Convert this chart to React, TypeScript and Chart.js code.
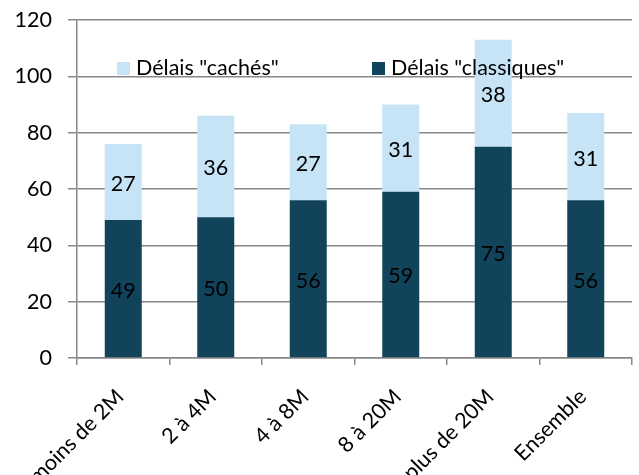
import React, { useEffect, useRef } from "react";
import { Chart, registerables } from "chart.js";

Chart.register(...registerables);

const categories = ["moins de 2M", "2 à 4M", "4 à 8M", "8 à 20M", "plus de 20M", "Ensemble"];
const classiques = [49, 50, 56, 59, 75, 56];
const caches = [27, 36, 27, 31, 38, 31];
const labelClassiques = 'Délais "classiques"';
const labelCaches = 'Délais "cachés"';
const yTicks = [0, 20, 40, 60, 80, 100, 120];

const FONT = "Lato, 'Open Sans', sans-serif";
const FS = 21.5;
const DARK = "#11435a";
const LIGHT = "#c6e4f6";

const valueLabels = {
  id: "valueLabels",
  afterDatasetsDraw(chart: any) {
    const ctx = chart.ctx;
    ctx.save();
    ctx.font = `${FS}px ${FONT}`;
    ctx.fillStyle = "#000";
    ctx.textAlign = "center";
    ctx.textBaseline = "middle";
    chart.data.datasets.forEach((ds: any, i: number) => {
      const meta = chart.getDatasetMeta(i);
      meta.data.forEach((bar: any, j: number) => {
        const y = (bar.y + bar.base) / 2;
        ctx.fillText(String(ds.data[j]), bar.x, y + 2);
      });
    });
    ctx.restore();
  },
};

const innerLegend = {
  id: "innerLegend",
  afterDraw(chart: any) {
    const ctx = chart.ctx;
    const area = chart.chartArea;
    ctx.save();
    ctx.font = `${FS}px ${FONT}`;
    ctx.textBaseline = "middle";
    ctx.textAlign = "left";
    const cy = 68;
    const items = [
      { ds: chart.data.datasets[1], x: area.left + 40 },
      { ds: chart.data.datasets[0], x: area.left + 295 },
    ];
    items.forEach(({ ds, x }) => {
      ctx.fillStyle = ds.backgroundColor;
      ctx.fillRect(x, cy - 6, 13, 13);
      ctx.fillStyle = "#000";
      ctx.fillText(ds.label, x + 19, cy);
    });
    ctx.restore();
  },
};

export default function App() {
  const ref = useRef<HTMLCanvasElement>(null);
  useEffect(() => {
    if (!ref.current) return;
    const chart = new Chart(ref.current, {
      type: "bar",
      data: {
        labels: categories,
        datasets: [
          { label: labelClassiques, data: classiques, backgroundColor: DARK, barPercentage: 0.4, categoryPercentage: 1 },
          { label: labelCaches, data: caches, backgroundColor: LIGHT, barPercentage: 0.4, categoryPercentage: 1 },
        ],
      },
      options: {
        animation: false,
        responsive: false,
        devicePixelRatio: 1,
        layout: { padding: { top: 20, right: 7, left: 0, bottom: 0 } },
        plugins: { legend: { display: false }, tooltip: { enabled: false } },
        scales: {
          x: {
            stacked: true,
            offset: true,
            grid: { display: true, drawOnChartArea: false, drawTicks: true, tickLength: 7, color: "#888", offset: true, lineWidth: 1.5 },
            border: { color: "#888", width: 1.5 },
            ticks: {
              color: "#000",
              font: { family: FONT, size: FS },
              minRotation: 45,
              maxRotation: 45,
              padding: 19,
              labelOffset: -3,
            },
            afterFit: (s: any) => { s.height = 117; },
          },
          y: {
            stacked: true,
            min: 0,
            max: 120,
            afterBuildTicks: (s: any) => { s.ticks = yTicks.map((v) => ({ value: v })); },
            grid: { color: "#888", lineWidth: 1.5, tickLength: 9 },
            border: { color: "#888", width: 1.5 },
            ticks: { color: "#000", font: { family: FONT, size: FS }, padding: 16 },
            afterFit: (s: any) => { s.width = 77; s.paddingTop = 0; s.paddingBottom = 0; },
          },
        },
      },
      plugins: [valueLabels, innerLegend],
    });
    return () => chart.destroy();
  }, []);
  return (
    <div style={{ position: "absolute", left: 0, top: 0, width: 639, height: 475, background: "#fff" }}>
      <canvas ref={ref} width={639} height={475} style={{ width: 639, height: 475 }} />
    </div>
  );
}
